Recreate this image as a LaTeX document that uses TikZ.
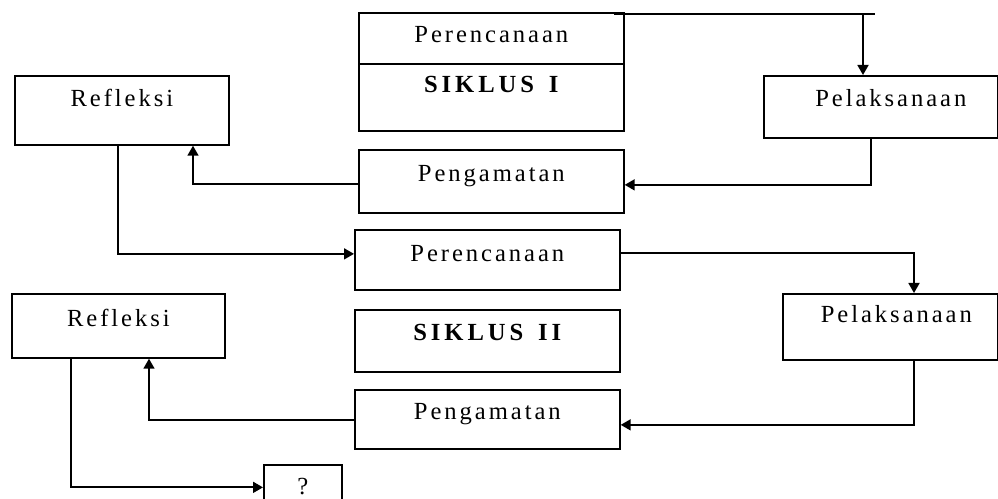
\documentclass[tikz,border=0pt]{standalone}
\usepackage{fontspec}
\setmainfont{Liberation Serif}
\newfontfamily\kotakfont[LetterSpace=12]{Liberation Serif}
\newfontfamily\judulfont[LetterSpace=16]{Liberation Serif}
\usetikzlibrary{arrows.meta}

\begin{document}
\begin{tikzpicture}[
    x=0.02cm, y=-0.02cm,
    kotak/.style={rectangle, draw=black, line width=1pt, anchor=north west, inner sep=0pt, align=center, font=\fontsize{14}{16}\kotakfont},
    ukuran/.style n args={3}{minimum width=#1cm, text height=#2cm, text depth=#3cm},
    judul/.style={font=\fontsize{14}{16}\judulfont\bfseries},
    panah/.style={line width=1pt, -{Triangle[length=0.2cm,width=0.22cm]}}
]
    \clip (0,0) rectangle (998,499);

    % siklus I
    \node[kotak, ukuran={5.3}{0.60}{0.42}] (plan1) at (358,12) {Perencanaan};
    \node[kotak, judul, ukuran={5.3}{0.58}{0.76}] (siklus1) at (358,63) {SIKLUS\hspace{0.3cm}I};
    \node[kotak, ukuran={4.68}{0.62}{0.62}] (act1) at (763,75) {\hspace*{0.4cm}Pelaksanaan};
    \node[kotak, ukuran={5.3}{0.64}{0.62}] (obs1) at (358,149) {Pengamatan};
    \node[kotak, ukuran={4.28}{0.62}{0.76}] (ref1) at (14,75) {Refleksi};

    % siklus II
    \node[kotak, ukuran={5.3}{0.64}{0.56}] (plan2) at (354,229) {Perencanaan};
    \node[kotak, judul, ukuran={5.3}{0.62}{0.62}] (siklus2) at (354,309) {SIKLUS\hspace{0.3cm}II};
    \node[kotak, ukuran={4.3}{0.58}{0.74}] (act2) at (782,293) {\hspace*{0.24cm}Pelaksanaan};
    \node[kotak, ukuran={5.3}{0.60}{0.58}] (obs2) at (354,389) {Pengamatan};
    \node[kotak, ukuran={4.26}{0.66}{0.62}] (ref2) at (11,293) {Refleksi};
    \node[kotak, ukuran={1.56}{0.60}{0.30}] (next) at (263,464) {?};

    \draw[line width=1pt] ([shift={(-11,2)}]plan1.north east) -- ++(261,0);
    \draw[panah] ([shift={(100,-61)}]act1.north west) -- ([shift={(100,0)}]act1.north west);
    \draw[panah] ([shift={(108,0)}]act1.south west) |- ([shift={(0,3.5)}]obs1.east);
    \draw[panah] ([shift={(0,2.5)}]obs1.west) -| ([shift={(179,0)}]ref1.south west);
    \draw[panah] ([shift={(104,0)}]ref1.south west) |- ([shift={(0,-6)}]plan2.west);
    \draw[panah] ([shift={(0,-7)}]plan2.east) -| ([shift={(132,0)}]act2.north west);
    \draw[panah] ([shift={(132,0)}]act2.south west) |- ([shift={(0,5.5)}]obs2.east);
    \draw[panah] ([shift={(0,0.5)}]obs2.west) -| ([shift={(138,0)}]ref2.south west);
    \draw[panah] ([shift={(60,0)}]ref2.south west) |- (next.west);
\end{tikzpicture}
\end{document}
